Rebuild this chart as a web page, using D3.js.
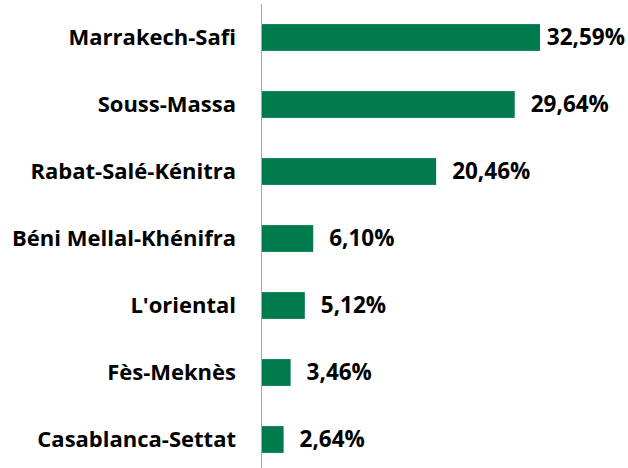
<!DOCTYPE html>
<html>
<head>
<meta charset="utf-8">
<script src="https://cdn.jsdelivr.net/npm/d3@7"></script>
<style>
  body { margin: 0; background: #fff; }
  text { font-family: "Open Sans", Lato, sans-serif; font-weight: bold; fill: #000; }
</style>
</head>
<body>
<div id="chart"></div>
<script>
var regions = ["Marrakech-Safi", "Souss-Massa", "Rabat-Salé-Kénitra", "Béni Mellal-Khénifra",
               "L'oriental", "Fès-Meknès", "Casablanca-Settat"];
var shares = [32.59, 29.64, 20.46, 6.10, 5.12, 3.46, 2.64];
var shareLabels = ["32,59%", "29,64%", "20,46%", "6,10%", "5,12%", "3,46%", "2,64%"];

var width = 628, height = 468;
var x0 = 261;

var data = regions.map(function (r, i) {
    return { region: r, share: shares[i], label: shareLabels[i] };
});

var x = d3.scaleLinear()
    .domain([0, 32.59])
    .range([x0, 540]);

var y = d3.scaleBand()
    .domain(regions)
    .range([4, 473])
    .paddingInner(0.6)
    .paddingOuter(0.3);

var svg = d3.select("#chart").append("svg")
    .attr("width", width)
    .attr("height", height);

svg.selectAll(".bar")
    .data(data)
    .enter().append("rect")
    .attr("class", "bar")
    .attr("x", x(0))
    .attr("y", function (d) { return y(d.region); })
    .attr("width", function (d) { return x(d.share) - x(0); })
    .attr("height", y.bandwidth())
    .attr("fill", "#017a4d");

// vertical axis line
svg.append("line")
    .attr("x1", x0 + 0.5).attr("x2", x0 + 0.5)
    .attr("y1", 4).attr("y2", 468)
    .attr("stroke", "#a6a6a6")
    .attr("stroke-width", 1);

svg.selectAll(".cat")
    .data(data)
    .enter().append("text")
    .attr("class", "cat")
    .attr("x", 236)
    .attr("y", function (d) { return y(d.region) + y.bandwidth() / 2; })
    .attr("dy", "0.33em")
    .attr("text-anchor", "end")
    .style("font-size", "22px")
    .text(function (d) { return d.region; });

svg.selectAll(".val")
    .data(data)
    .enter().append("text")
    .attr("class", "val")
    .attr("y", function (d) { return y(d.region) + y.bandwidth() / 2; })
    .attr("dy", "0.35em")
    .style("font-size", "22.5px")
    .text(function (d) { return d.label; })
    .attr("x", function (d) {
        var w = this.getComputedTextLength();
        return Math.min(x(d.share) + 16, width - 3 - w);
    });
</script>
</body>
</html>
